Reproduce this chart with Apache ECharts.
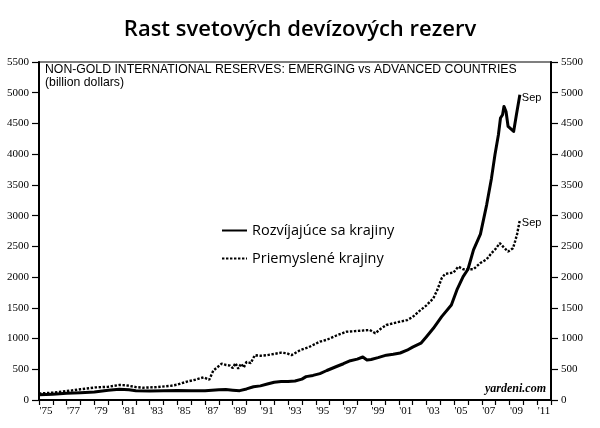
<!DOCTYPE html>
<html>
<head>
<meta charset="utf-8">
<script src="https://cdn.jsdelivr.net/npm/echarts@6/dist/echarts.min.js"></script>
<style>
html,body{margin:0;padding:0;background:#fff;}
#c{width:600px;height:428px;}
</style>
</head>
<body>
<div id="c"></div>
<script>
// Emerging countries (solid), billion dollars
const emYears = [1975.0,1976.0,1977.0,1978.0,1979.0,1980.0,1980.8,1981.5,1982.0,1983.0,1984.0,1985.0,1986.0,1987.0,1988.0,1988.5,1989.0,1989.5,1990.0,1990.5,1991.0,1991.5,1992.0,1992.5,1993.0,1993.5,1994.0,1994.3,1994.8,1995.3,1995.8,1996.5,1997.0,1997.5,1998.0,1998.4,1998.7,1999.0,1999.5,2000.1,2000.6,2001.1,2001.6,2002.0,2002.6,2003.0,2003.5,2004.1,2004.8,2005.2,2005.65,2006.0,2006.4,2006.9,2007.35,2007.7,2007.95,2008.2,2008.35,2008.5,2008.6,2008.75,2008.9,2009.3,2009.5,2009.75];
const emValues = [85,95,108,118,130,160,175,165,150,148,152,155,150,150,168,170,160,152,180,215,230,260,290,300,300,310,340,380,400,430,480,545,590,640,665,700,650,660,690,730,745,765,810,860,925,1030,1167,1357,1547,1791,2008,2128,2443,2700,3176,3610,3990,4316,4588,4641,4777,4695,4451,4370,4641,4967];

// Advanced countries (dotted), billion dollars
const advYears = [1975.0,1976.0,1977.2,1978.0,1979.1,1980.0,1980.8,1981.3,1982.0,1982.5,1983.5,1984.5,1985.0,1985.7,1986.3,1986.9,1987.3,1987.6,1988.2,1988.5,1988.8,1989.0,1989.2,1989.4,1989.6,1989.8,1990.0,1990.3,1990.6,1991.0,1991.5,1992.0,1992.5,1992.9,1993.25,1993.9,1994.5,1995.3,1995.8,1996.5,1997.2,1997.8,1998.4,1998.9,1999.3,1999.7,2000.1,2000.8,2001.6,2002.0,2002.5,2003.0,2003.5,2003.8,2004.1,2004.35,2004.95,2005.3,2005.65,2006.4,2006.9,2007.35,2007.7,2008.0,2008.3,2008.6,2008.9,2009.25,2009.4,2009.55,2009.75];
const advValues = [105,120,150,175,205,215,245,240,210,200,210,230,250,300,330,370,330,480,590,570,560,520,600,510,590,530,620,600,730,720,730,750,770,760,730,815,860,950,980,1050,1110,1120,1130,1140,1085,1160,1220,1260,1300,1350,1450,1540,1656,1800,1982,2052,2073,2171,2128,2128,2230,2290,2390,2460,2552,2480,2415,2470,2578,2700,2930];

const yearCats = [];
for (let y = 1975; y <= 2011; y++) yearCats.push(String(y));
const yTicks = { min: 0, max: 5500, interval: 500 };

const seriesNames = ['Rozvíjajúce sa krajiny', 'Priemyslené krajiny'];
const titleText = 'Rast svetových devízových rezerv';
const noteLine1 = 'NON-GOLD INTERNATIONAL RESERVES: EMERGING vs ADVANCED COUNTRIES';
const noteLine2 = '(billion dollars)';
const sourceText = 'yardeni.com';
const endText = 'Sep';

function pairs(xs, ys) { return xs.map((x, i) => [x, ys[i]]); }

const chart = echarts.init(document.getElementById('c'), null, { renderer: 'canvas' });
const serif = '"Liberation Serif", "DejaVu Serif", serif';
const sans = '"Liberation Sans", Arial, sans-serif';

function yAxisDef(pos) {
  return {
    type: 'value', min: yTicks.min, max: yTicks.max, interval: yTicks.interval, position: pos,
    splitLine: { show: false },
    axisLine: { show: true, lineStyle: { color: '#000', width: 2 } },
    axisTick: { show: true, length: 7, lineStyle: { color: '#000', width: 1.2 } },
    axisLabel: { margin: 10, fontFamily: serif, fontSize: 11, color: '#000', formatter: v => String(v) }
  };
}

chart.setOption({
  animation: false,
  backgroundColor: '#fff',
  title: {
    text: titleText,
    left: 'center',
    top: 14,
    textStyle: { fontFamily: '"Open Sans", sans-serif', fontWeight: 600, fontSize: 22, color: '#000' }
  },
  grid: { left: 39, right: 49, top: 62, bottom: 28, show: true, borderColor: '#000', borderWidth: 1.2, backgroundColor: 'transparent' },
  legend: {
    data: seriesNames,
    orient: 'vertical',
    left: 216,
    top: 218,
    itemWidth: 25,
    itemHeight: 14,
    itemGap: 13,
    itemStyle: { opacity: 0 },
    textStyle: { fontFamily: '"Open Sans", sans-serif', fontSize: 14.5, lineHeight: 14, color: '#000' }
  },
  xAxis: [
    { type: 'value', min: 1975, max: 2012, show: false },
    {
      type: 'category', data: yearCats, boundaryGap: true, position: 'bottom',
      axisLine: { show: true, lineStyle: { color: '#000', width: 2 } },
      axisTick: { show: true, interval: 0, length: 5, lineStyle: { color: '#000', width: 1.2 } },
      axisLabel: { interval: 1, margin: 6, fontFamily: serif, fontSize: 11, color: '#000', formatter: v => "'" + v.slice(2) }
    }
  ],
  yAxis: [ yAxisDef('left'), yAxisDef('right') ],
  series: [
    {
      name: seriesNames[0], type: 'line', xAxisIndex: 0, yAxisIndex: 0,
      data: pairs(emYears, emValues), symbol: 'none',
      lineStyle: { color: '#000', width: 3, join: 'round' },
      itemStyle: { color: '#000' },
      endLabel: { show: true, formatter: endText, fontFamily: sans, fontSize: 11, color: '#000', distance: 2, offset: [0, 3] }
    },
    {
      name: seriesNames[1], type: 'line', xAxisIndex: 0, yAxisIndex: 0,
      data: pairs(advYears, advValues), symbol: 'none',
      lineStyle: { color: '#000', width: 2.4, type: [2.4, 1.6], cap: 'butt' },
      itemStyle: { color: '#000' },
      endLabel: { show: true, formatter: endText, fontFamily: sans, fontSize: 11, color: '#000', distance: 2, offset: [0, 3] }
    }
  ],
  graphic: [
    { type: 'text', left: 45, top: 64, style: { text: noteLine1, font: '12.25px ' + sans, fill: '#000' } },
    { type: 'text', left: 45, top: 77, style: { text: noteLine2, font: '12.25px ' + sans, fill: '#000' } },
    { type: 'text', right: 54, top: 383, style: { text: sourceText, font: 'italic bold 12px ' + serif, fill: '#000' } }
  ]
});
</script>
</body>
</html>
